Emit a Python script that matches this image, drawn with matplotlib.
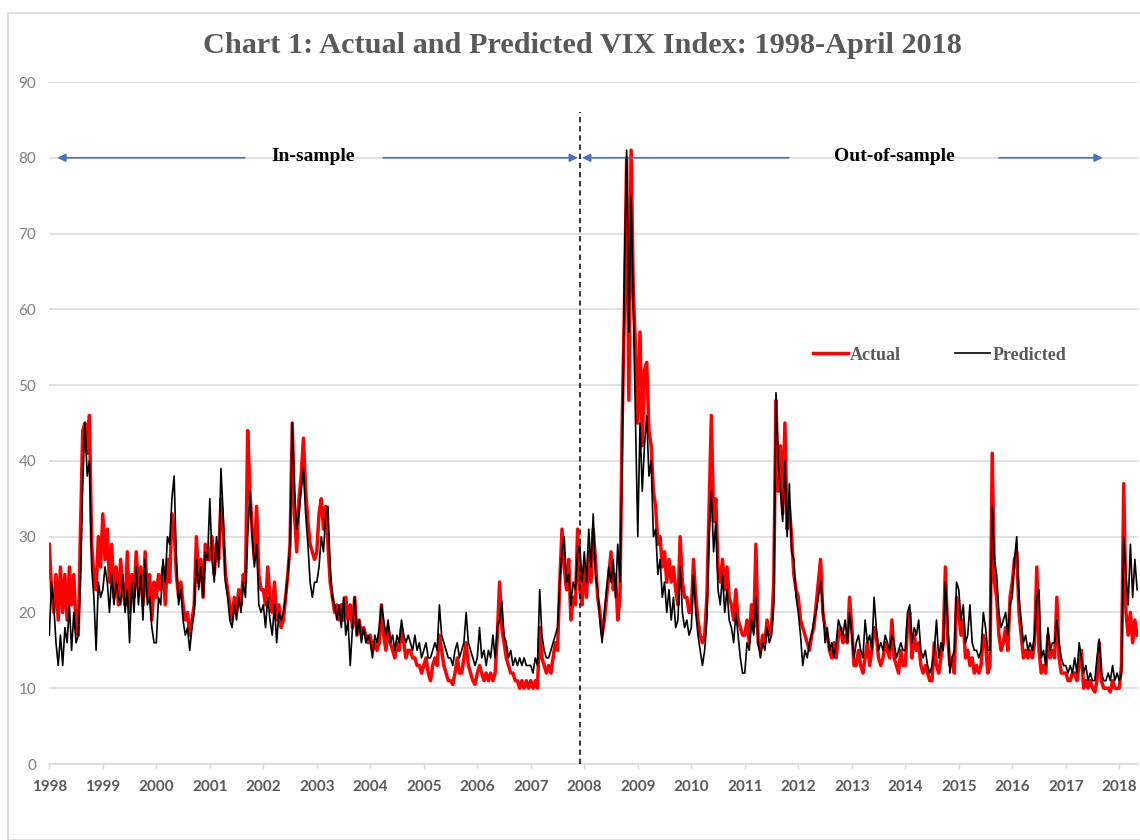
import matplotlib
matplotlib.use("Agg")
import matplotlib.pyplot as plt
from matplotlib.patches import Rectangle
import numpy as np

# ---- data: semi-monthly readings (24 per year, Jan-1st-half ... Dec-2nd-half) ----
actual_1998 = [29, 23, 20, 25, 19, 26, 20, 25, 19, 26, 21, 25, 18, 17, 31, 44, 45, 41, 46, 29, 25, 23, 30, 26]
predicted_1998 = [17, 24, 21, 16, 13, 17, 13, 18, 16, 21, 15, 20, 16, 17, 24, 37, 45, 38, 40, 26, 22, 15, 24, 22]
actual_1999 = [33, 27, 31, 24, 29, 22, 26, 21, 27, 23, 21, 28, 20, 25, 22, 28, 23, 26, 21, 28, 22, 25, 19, 24]
predicted_1999 = [23, 26, 24, 20, 25, 21, 24, 22, 21, 25, 20, 23, 16, 24, 20, 26, 21, 25, 19, 27, 21, 22, 18, 16]
actual_2000 = [22, 25, 23, 26, 21, 27, 24, 33, 31, 25, 22, 24, 21, 19, 20, 17, 19, 21, 30, 24, 27, 22, 29, 27]
predicted_2000 = [16, 22, 21, 27, 24, 30, 29, 35, 38, 27, 21, 23, 19, 17, 18, 15, 18, 20, 27, 23, 26, 22, 28, 27]
actual_2001 = [27, 30, 25, 29, 27, 35, 31, 25, 23, 21, 19, 22, 20, 23, 21, 25, 24, 44, 36, 31, 27, 34, 25, 23]
predicted_2001 = [35, 27, 24, 30, 26, 39, 33, 24, 22, 19, 18, 21, 19, 22, 20, 24, 22, 30, 36, 30, 26, 29, 21, 20]
actual_2002 = [23, 21, 26, 22, 20, 24, 19, 21, 18, 19, 22, 25, 29, 45, 33, 28, 35, 38, 43, 36, 32, 29, 28, 27]
predicted_2002 = [21, 18, 22, 19, 17, 21, 16, 20, 19, 20, 22, 25, 29, 45, 36, 31, 33, 36, 39, 33, 29, 24, 22, 24]
actual_2003 = [28, 33, 35, 31, 34, 29, 24, 22, 20, 21, 19, 21, 19, 22, 19, 21, 18, 22, 17, 19, 17, 18, 17, 16]
predicted_2003 = [24, 26, 30, 28, 33, 34, 26, 22, 21, 19, 21, 18, 22, 17, 19, 13, 18, 22, 17, 19, 16, 18, 16, 17]
actual_2004 = [17, 15, 16, 15, 16, 21, 17, 15, 18, 16, 15, 14, 16, 15, 18, 16, 14, 15, 15, 14, 14, 13, 13, 12]
predicted_2004 = [16, 14, 17, 16, 18, 21, 19, 17, 19, 16, 17, 15, 17, 16, 19, 17, 16, 17, 16, 15, 17, 15, 16, 14]
actual_2005 = [13, 14, 12, 11, 13, 14, 13, 17, 15, 13, 12, 11, 11, 10.5, 12, 14, 12, 12, 14, 16, 13, 12, 11, 10.5]
predicted_2005 = [15, 16, 14, 14, 15, 16, 15, 21, 17, 16, 15, 14, 14, 13, 15, 16, 14, 15, 16, 20, 16, 15, 14, 13]
actual_2006 = [12, 13, 12, 11, 12, 11, 12, 11, 12, 17, 24, 18, 16, 14, 13, 12, 12, 11, 11, 10, 11, 10, 11, 10]
predicted_2006 = [14, 18, 14, 15, 13, 15, 14, 17, 14, 18, 19, 21.5, 17, 16, 14, 15, 13, 14, 13, 14, 13, 14, 13, 13]
actual_2007 = [11, 10, 11, 10, 18, 14, 13, 12, 13, 12, 14, 16, 15, 24, 31, 26, 23, 27, 19, 22, 21, 31, 23, 21]
predicted_2007 = [13, 12, 14, 13, 23, 17, 15, 14, 14, 15, 16, 17, 18, 24, 28, 30, 24, 25, 21, 24, 23, 28, 29, 24]
actual_2008 = [26, 22, 28, 24, 31, 27, 22, 20, 17, 19, 22, 25, 28, 23, 25, 19, 22, 45, 60, 80, 48, 81, 62, 55]
predicted_2008 = [28, 24, 31, 26, 33, 25, 23, 19, 16, 20, 23, 26, 24, 27, 22, 29, 24, 40, 65, 81, 57, 75, 60, 45]
actual_2009 = [45, 57, 42, 52, 53, 44, 42, 36, 34, 29, 30, 26, 28, 24, 27, 24, 26, 23, 21, 30, 24, 22, 22, 20]
predicted_2009 = [30, 45, 36, 42, 46, 38, 40, 30, 31, 25, 27, 22, 24, 20, 23, 19, 22, 18, 19, 26, 20, 18, 19, 17]
actual_2010 = [20, 27, 22, 19, 17, 16, 17, 22, 34, 46, 32, 35, 26, 24, 27, 23, 26, 22, 21, 19, 23, 19, 18, 17]
predicted_2010 = [18, 25, 20, 17, 15, 13, 15, 19, 30, 36, 28, 32, 23, 21, 25, 20, 23, 19, 18, 16, 20, 17, 14, 12]
actual_2011 = [17, 19, 16, 21, 18, 29, 16, 15, 17, 16, 19, 17, 18, 24, 48, 36, 42, 33, 45, 31, 34, 30, 25, 23]
predicted_2011 = [12, 16, 15, 19, 17, 22, 16, 14, 16, 15, 18, 16, 17, 21, 49, 40, 36, 32, 40, 30, 37, 28, 27, 22]
actual_2012 = [22, 19, 18, 17, 16, 15, 17, 18, 21, 24, 27, 20, 18, 17, 15, 14, 16, 14, 17, 18, 16, 17, 16, 22]
predicted_2012 = [20, 17, 13, 15, 14, 16, 17, 19, 20, 22, 24, 21, 16, 18, 15, 16, 14, 16, 19, 18, 17, 19, 16, 20]
actual_2013 = [18, 13, 13, 15, 13, 12, 14, 16, 13, 15, 18, 17, 14, 13, 14, 16, 15, 14, 19, 14, 13, 12, 15, 13]
predicted_2013 = [17, 14, 16, 17, 15, 14, 19, 16, 17, 15, 22, 18, 15, 16, 15, 17, 16, 15, 17, 16, 14, 15, 16, 15]
actual_2014 = [13, 18, 20, 14, 17, 15, 16, 13, 12, 13, 12, 11, 11, 16, 13, 12, 14, 16, 26, 17, 13, 14, 12, 22]
predicted_2014 = [15, 20, 21, 16, 18, 17, 19, 15, 14, 15, 13, 12, 13, 15, 19, 14, 16, 15, 24, 19, 12, 14, 15, 24]
actual_2015 = [20, 17, 19, 14, 15, 13, 14, 12, 13, 12, 13, 17, 16, 12, 13, 41, 24, 22, 17, 15, 16, 18, 15, 22]
predicted_2015 = [23, 19, 21, 16, 17, 21, 16, 15, 15, 14, 15, 20, 18, 15, 15, 34, 27, 25, 20, 18, 19, 20, 17, 21]
actual_2016 = [24, 27, 28, 20, 17, 14, 15, 14, 15, 14, 16, 26, 15, 12, 13, 12, 17, 14, 15, 14, 22, 14, 12, 12]
predicted_2016 = [22, 27, 30, 22, 19, 16, 17, 15, 16, 15, 17, 22, 23, 14, 15, 13, 18, 15, 16, 16, 19, 16, 14, 13]
actual_2017 = [12, 11, 11, 12, 12, 11, 13, 15, 10, 11, 10, 11, 10, 9.5, 11, 16, 11, 10, 10, 10, 9.5, 11, 10, 10]
predicted_2017 = [13, 12, 13, 12, 14, 12, 16, 14, 12, 13, 11, 12, 11, 11, 14, 16.5, 12, 11, 11, 12, 11, 13, 11, 12]
actual_2018 = [10, 13, 37, 20, 17, 20, 16, 19, 17]
predicted_2018 = [11, 12, 30, 25, 21, 29, 22, 27, 23]

years = list(range(1998, 2019))
year_labels = [str(y) for y in years]
y_ticks = [0, 10, 20, 30, 40, 50, 60, 70, 80, 90]

title = "Chart 1: Actual and Predicted VIX Index: 1998-April 2018"
split_year = 2007.92
in_sample_label = "In-sample"
out_sample_label = "Out-of-sample"

g = globals()
actual = np.concatenate([g[f"actual_{y}"] for y in years])
predicted = np.concatenate([g[f"predicted_{y}"] for y in years])
t = np.concatenate([y + np.arange(len(g[f"actual_{y}"])) / 24.0 for y in years])

# ---- figure ----
W, H = 1140, 840
fig = plt.figure(figsize=(W / 100, H / 100), dpi=100)
fig.patch.set_facecolor("white")
fig.patches.append(Rectangle((8 / W, 0), 1.2, 1 - 13 / H, transform=fig.transFigure,
                             fill=False, edgecolor="#d9d9d9", lw=1.2))

ax = fig.add_axes([49.3 / W, 76 / H, 1088.7 / W, 682 / H])
ax.set_xlim(1998, 2018.35)
ax.set_ylim(0, 90)

ax.plot(t, actual, color="#ff0000", lw=2.5, label="Actual", zorder=3)
ax.plot(t, predicted, color="#000000", lw=1.2, label="Predicted", zorder=4)

ax.set_yticks(y_ticks)
ax.set_xticks(years)
ax.set_xticklabels(year_labels)
ax.yaxis.grid(True, color="#d9d9d9", lw=1.1)
ax.set_axisbelow(True)
for s in ["left", "right", "top"]:
    ax.spines[s].set_visible(False)
ax.spines["bottom"].set_color("#d9d9d9")
ax.spines["bottom"].set_linewidth(1.1)
ax.tick_params(axis="y", length=0, pad=9.5, labelsize=11, labelcolor="#7f7f7f")
ax.tick_params(axis="x", length=3.5, width=1, color="#d9d9d9", pad=8, labelsize=11,
               labelcolor="#595959")
for lab in ax.get_xticklabels():
    lab.set_fontfamily("Lato")
    lab.set_fontweight("bold")
for lab in ax.get_yticklabels():
    lab.set_fontfamily("Lato")

# split line
ax.plot([split_year, split_year], [0, 86], color="black", lw=1.1, ls=(0, (3.5, 2.5)), zorder=5)

# arrows
arrow_kw = dict(arrowstyle="-|>", color="#4472c4", lw=1.2, mutation_scale=12, shrinkA=0, shrinkB=0)
ax.annotate("", xy=(1998.15, 80), xytext=(2001.65, 80), arrowprops=arrow_kw)
ax.annotate("", xy=(2007.88, 80), xytext=(2004.24, 80), arrowprops=arrow_kw)
ax.annotate("", xy=(2007.96, 80), xytext=(2011.82, 80), arrowprops=arrow_kw)
ax.annotate("", xy=(2017.69, 80), xytext=(2015.75, 80), arrowprops=arrow_kw)
serif_b = dict(family="Liberation Serif", weight="bold")
ax.text(2002.94, 79.6, in_sample_label, ha="center", va="baseline", fontsize=14, color="black", **serif_b)
ax.text(2013.79, 79.6, out_sample_label, ha="center", va="baseline", fontsize=14, color="black", **serif_b)

fig.text(582.5 / W, 1 - 53 / H, title, ha="center", va="baseline", fontsize=21.8,
         color="#595959", **serif_b)

leg = ax.legend(loc="center left", bbox_to_anchor=((813 - 49.3) / 1088.7, (764 - 355) / 682),
                ncol=2, frameon=False, borderpad=0, borderaxespad=0, handlelength=1.95,
                handletextpad=0.1, columnspacing=3.0,
                prop=dict(family="Liberation Serif", weight="bold", size=13))
for txt in leg.get_texts():
    txt.set_color("#595959")

fig.savefig("out.png", dpi=100)
